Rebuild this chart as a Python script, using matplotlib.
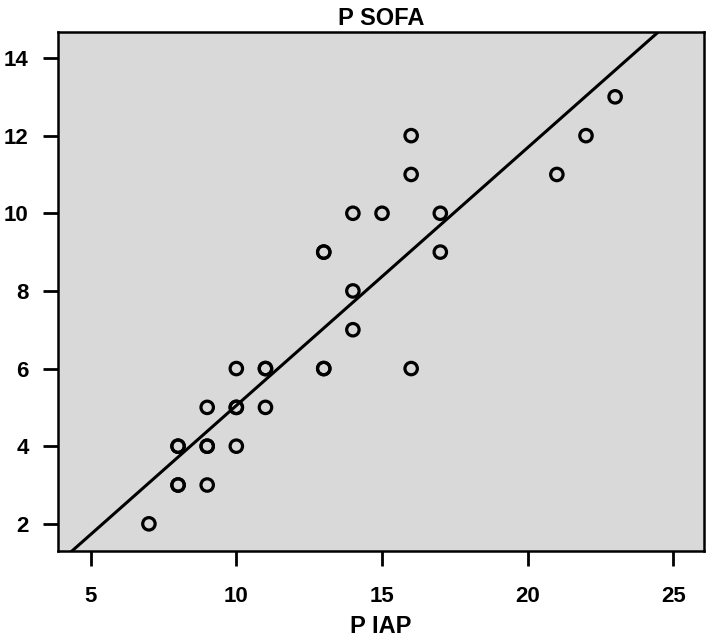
import matplotlib.pyplot as plt
import numpy as np

plt.rcParams['font.family'] = ['Liberation Sans', 'DejaVu Sans']
plt.rcParams['font.weight'] = 'bold'

# P IAP vs P SOFA (repeated pairs drawn twice, they look heavier in the source)
p_iap = [7, 8, 8, 9, 8, 8, 9, 9, 10, 9, 10, 10, 11, 10, 11, 11, 13, 13, 16,
         14, 14, 13, 13, 17, 14, 15, 17, 16, 21, 16, 22, 23]
p_sofa = [2, 3, 3, 3, 4, 4, 4, 4, 4, 5, 5, 5, 5, 6, 6, 6, 6, 6, 6,
          7, 8, 9, 9, 9, 10, 10, 10, 11, 11, 12, 12, 13]

x_ticks = [5, 10, 15, 20, 25]
y_ticks = [2, 4, 6, 8, 10, 12, 14]

fig = plt.figure(figsize=(7.09, 6.38), dpi=100)
ax = fig.add_axes([58 / 709, 1 - 551 / 638, (704 - 58) / 709, (551 - 32) / 638])
ax.set_facecolor('#d9d9d9')

ax.scatter(p_iap, p_sofa, s=80, facecolors='none', edgecolors='black',
           linewidths=2.3, zorder=3)

# least-squares fit line
slope, intercept = np.polyfit(p_iap, p_sofa, 1)
xs = np.array([3.0, 27.0])
ax.plot(xs, intercept + slope * xs, color='black', lw=2.2, zorder=2)

ax.set_xlim(3.88, 26.05)
ax.set_ylim(1.3, 14.67)
ax.set_xticks(x_ticks)
ax.set_yticks(y_ticks)

for side in ax.spines.values():
    side.set_linewidth(1.8)
ax.tick_params(axis='both', direction='out', length=11, width=2, labelsize=16)
ax.tick_params(axis='x', pad=14)
ax.tick_params(axis='y', pad=10)

ax.set_title('P SOFA', fontsize=17, fontweight='bold', pad=5)
ax.set_xlabel('P IAP', fontsize=17, fontweight='bold', labelpad=6)

fig.savefig('out.png', dpi=100)
